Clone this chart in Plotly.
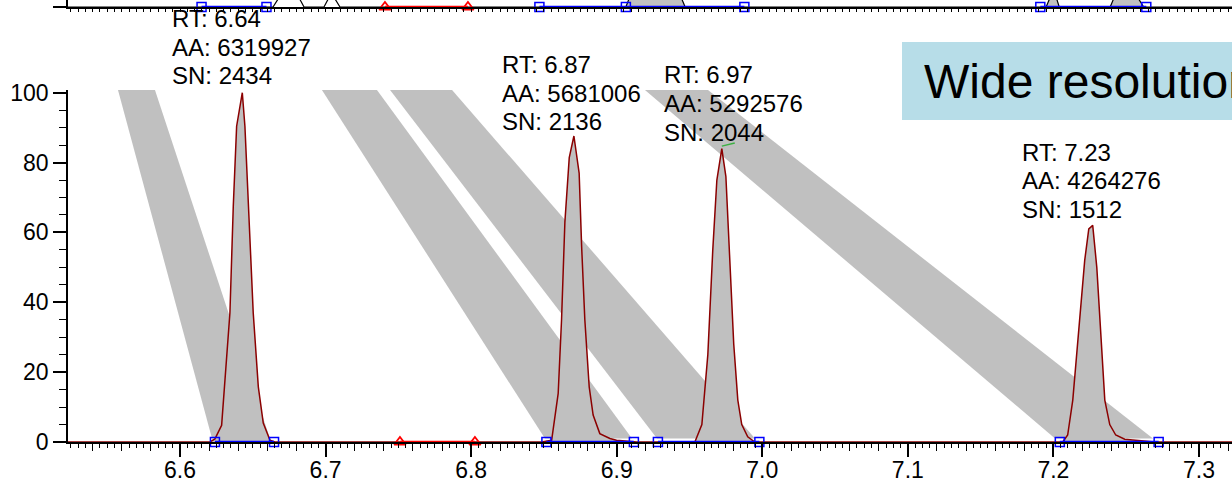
import plotly.graph_objects as go

FONT = "Liberation Sans, Arial, sans-serif"
X_MIN, X_MAX = 6.52306, 7.32268
Y_TOP = 100.77

# ---- lower chromatogram peaks (RT min, relative intensity %) ----
p1_rt = [6.6206, 6.6240, 6.6286, 6.6343, 6.6366, 6.6389, 6.6428, 6.6446, 6.6469, 6.6503, 6.6538, 6.6572, 6.6618, 6.6652]
p1_int = [0, 0.9, 4.8, 37, 67.5, 90.4, 100, 90.4, 67.5, 37, 15.8, 5.4, 0.5, 0]
p2_rt = [6.8484, 6.8553, 6.8598, 6.8621, 6.8644, 6.8674, 6.8706, 6.8742, 6.8759, 6.8781, 6.8811, 6.8838, 6.8884, 6.8953, 6.8999, 6.9136]
p2_int = [0, 0.5, 13.9, 35, 63, 81.4, 87.6, 77, 56, 35, 15.8, 7.7, 2.4, 1.0, 0.5, 0]
p3_rt = [6.9537, 6.9585, 6.9626, 6.9660, 6.9688, 6.9722, 6.9750, 6.9777, 6.9804, 6.9832, 6.9859, 6.9900, 6.9949]
p3_int = [0, 5, 25, 55, 75, 84, 76, 52, 28, 12, 5, 1.5, 0]
p4_rt = [7.2064, 7.2098, 7.2133, 7.2181, 7.2215, 7.2243, 7.2270, 7.2298, 7.2325, 7.2353, 7.2387, 7.2428, 7.2490, 7.2627, 7.2696]
p4_int = [0, 2, 12, 35, 52, 61, 62, 50, 30, 12, 5, 2, 0.8, 0.3, 0]

# peak labels
label_rt = ["RT: 6.64", "RT: 6.87", "RT: 6.97", "RT: 7.23"]
label_aa = ["AA: 6319927", "AA: 5681006", "AA: 5292576", "AA: 4264276"]
label_sn = ["SN: 2434", "SN: 2136", "SN: 2044", "SN: 1512"]

# integration boundaries (blue) and red marker segment
bound_start = [6.6240, 6.8517, 6.9283, 7.2044]
bound_end = [6.6646, 6.9118, 6.9980, 7.2723]
red_seg = [6.7511, 6.8026]

# apex marker on peak 3 (green)
apex_rt = [6.9722, 6.9811]
apex_int = [84.7, 85.6]

# grey zoom bands: top edges and bottom edges (RT)
band_top_l = [6.5574, 6.6975, 6.7443, 6.9194]
band_top_r = [6.5828, 6.7353, 6.7869, 6.9627]
band_bot_l = [6.6220, 6.8507, 6.9277, 7.2011]
band_bot_r = [6.6618, 6.9105, 6.9950, 7.2684]
BAND_BOTTOM = 1.0

# ---- upper (cut-off) chromatogram strip ----
up_rt = [X_MIN, 6.6639, 6.6700, 6.6800, 6.6852, 6.6989, 6.7040, 6.7099, 6.9063, 6.9100, 6.9430, 6.9470,
         7.1950, 7.1990, 7.2010, 7.2040, 7.2390, 7.2430, 7.2560, 7.2620, X_MAX]
up_int = [0, 0, 4, 4, 0, 0, 4, 0, 0, 4, 4, 0, 0, 4, 4, 0, 0, 4, 4, 0, 0]
up_fill_groups = [(8, 12), (12, 16), (16, 20)]
up_blue_groups = [[6.6148, 6.6594], [6.8469, 6.9063, 6.9877], [7.1910, 7.2638]]
up_red = [6.7408, 6.7978]

GREY = "#c0c0c0"
DARKRED = "#8b0000"
BLUE = "#0000ff"
RED = "#ff0000"

fig = go.Figure()

# bands
for tl, tr, bl, br in zip(band_top_l, band_top_r, band_bot_l, band_bot_r):
    fig.add_trace(go.Scatter(x=[tl, tr, br, bl, tl], y=[Y_TOP, Y_TOP, BAND_BOTTOM, BAND_BOTTOM, Y_TOP],
                             mode="lines", fill="toself", fillcolor=GREY, line=dict(width=0),
                             hoverinfo="skip", showlegend=False))

peaks = [(p1_rt, p1_int), (p2_rt, p2_int), (p3_rt, p3_int), (p4_rt, p4_int)]
for rt, it in peaks:
    fig.add_trace(go.Scatter(x=rt, y=it, mode="lines", fill="tozeroy", fillcolor=GREY,
                             line=dict(width=0), hoverinfo="skip", showlegend=False))

trace_rt = [X_MIN]
trace_int = [0]
for rt, it in peaks:
    trace_rt += rt
    trace_int += it
trace_rt.append(X_MAX)
trace_int.append(0)
fig.add_trace(go.Scatter(x=trace_rt, y=trace_int, mode="lines", line=dict(color=DARKRED, width=1.5),
                         hoverinfo="skip", showlegend=False))

for s, e in zip(bound_start, bound_end):
    fig.add_trace(go.Scatter(x=[s, e], y=[0, 0], mode="lines+markers", cliponaxis=False,
                             line=dict(color=BLUE, width=2.5),
                             marker=dict(symbol="square-open", size=9, color=BLUE, line=dict(width=1.5)),
                             hoverinfo="skip", showlegend=False))

fig.add_trace(go.Scatter(x=red_seg, y=[0, 0], mode="lines+markers", cliponaxis=False,
                         line=dict(color=RED, width=2.5),
                         marker=dict(symbol="triangle-up-open", size=10, color=RED, line=dict(width=1.8)),
                         hoverinfo="skip", showlegend=False))

fig.add_trace(go.Scatter(x=apex_rt, y=apex_int, mode="lines", line=dict(color="#3cb043", width=1.5),
                         hoverinfo="skip", showlegend=False))

# upper strip
for a, b in up_fill_groups:
    fig.add_trace(go.Scatter(x=up_rt[a:b], y=up_int[a:b], mode="lines", fill="tozeroy", fillcolor=GREY,
                             line=dict(width=0), xaxis="x2", yaxis="y2", hoverinfo="skip", showlegend=False))
fig.add_trace(go.Scatter(x=up_rt, y=up_int, mode="lines", line=dict(color="black", width=1.2),
                         xaxis="x2", yaxis="y2", hoverinfo="skip", showlegend=False))
for g in up_blue_groups:
    fig.add_trace(go.Scatter(x=g, y=[0] * len(g), mode="lines+markers", cliponaxis=False,
                             line=dict(color=BLUE, width=2.5),
                             marker=dict(symbol="square-open", size=9, color=BLUE, line=dict(width=1.5)),
                             xaxis="x2", yaxis="y2", hoverinfo="skip", showlegend=False))
fig.add_trace(go.Scatter(x=up_red, y=[0, 0], mode="lines+markers", cliponaxis=False,
                         line=dict(color=RED, width=2.5),
                         marker=dict(symbol="triangle-up-open", size=10, color=RED, line=dict(width=1.8)),
                         xaxis="x2", yaxis="y2", hoverinfo="skip", showlegend=False))

# ---- layout ----
W, H = 1232, 487
ML, MB, MT = 68, 45, 0
PH = H - MB - MT  # plot-area height in px
PW = W - ML


def py(pix):
    return (PH - pix) / PH


def px(pix):
    return (pix - ML) / PW


tickfont = dict(family=FONT, size=23, color="black")

fig.update_layout(
    width=W, height=H,
    margin=dict(l=ML, r=0, t=MT, b=MB, autoexpand=False),
    paper_bgcolor="white", plot_bgcolor="white",
    hovermode=False,
    xaxis=dict(domain=[0, 1], range=[X_MIN, X_MAX], anchor="y", showgrid=False, zeroline=False,
               automargin=False, ticklabelstandoff=-6,
               showline=True, linecolor="black", linewidth=1.5,
               ticks="outside", ticklen=13, tickwidth=1.5, tickcolor="black",
               tick0=6.6, dtick=0.1, tickformat=".1f", tickfont=tickfont,
               minor=dict(ticks="outside", ticklen=4, tickwidth=1, tickcolor="black", tick0=6.6, dtick=0.005,
                          showgrid=False)),
    xaxis3=dict(overlaying="x", range=[X_MIN, X_MAX], anchor="y", showgrid=False, zeroline=False,
                automargin=False,
                showline=False, ticks="outside", ticklen=8, tickwidth=1.2, tickcolor="black",
                tick0=6.6, dtick=0.02, showticklabels=False),
    yaxis=dict(domain=[0, py(90)], range=[0, Y_TOP], anchor="x", showgrid=False, zeroline=False,
               automargin=False,
               showline=True, linecolor="black", linewidth=1.5,
               ticks="outside", ticklen=13, tickwidth=1.5, tickcolor="black",
               tick0=0, dtick=20, tickfont=tickfont,
               minor=dict(ticks="outside", ticklen=7, tickwidth=1, tickcolor="black", tick0=0, dtick=5,
                          showgrid=False)),
    xaxis2=dict(domain=[0, 1], range=[X_MIN, X_MAX], anchor="y2", showgrid=False, zeroline=False,
                automargin=False,
                showline=True, linecolor="black", linewidth=2,
                ticks="outside", ticklen=3, tickwidth=1, tickcolor="black", dtick=0.005, tick0=6.6,
                showticklabels=False),
    yaxis2=dict(domain=[py(7), 1], range=[0, 2], anchor="x2", showgrid=False, zeroline=False,
                automargin=False,
                showline=True, linecolor="black", linewidth=1.5,
                ticks="outside", ticklen=13, tickwidth=1.5, tickcolor="black",
                tickvals=[0], ticktext=["0"], tickfont=tickfont),
)
# dummy trace to activate the overlay tick axis
fig.add_trace(go.Scatter(x=[X_MIN], y=[0], xaxis="x3", yaxis="y", mode="markers",
                         marker=dict(opacity=0), hoverinfo="skip", showlegend=False))

# peak label annotations (one per line)
label_left_px = [171, 501, 663, 1021]
label_top_center_px = [18.5, 64.5, 75.0, 152.0]
LINE_PX = 28.6
annots = []
for i in range(4):
    for j, txt in enumerate([label_rt[i], label_aa[i], label_sn[i]]):
        annots.append(dict(x=px(label_left_px[i]), y=py(label_top_center_px[i] + j * LINE_PX),
                           xref="paper", yref="paper", xanchor="left", yanchor="middle",
                           text=txt, showarrow=False, borderpad=0,
                           font=dict(family=FONT, size=24, color="black")))

annots.append(dict(x=px(923), y=py(81.7), xref="paper", yref="paper", xanchor="left", yanchor="middle",
                   text="Wide resolution", showarrow=False, borderpad=0,
                   font=dict(family=FONT, size=48, color="black")))
fig.update_layout(annotations=annots)

fig.add_shape(type="rect", xref="paper", yref="paper", x0=px(902), x1=px(1300), y0=py(120), y1=py(42),
              fillcolor="#b7dde8", line=dict(width=0), layer="below")

fig.write_html("out.html")
